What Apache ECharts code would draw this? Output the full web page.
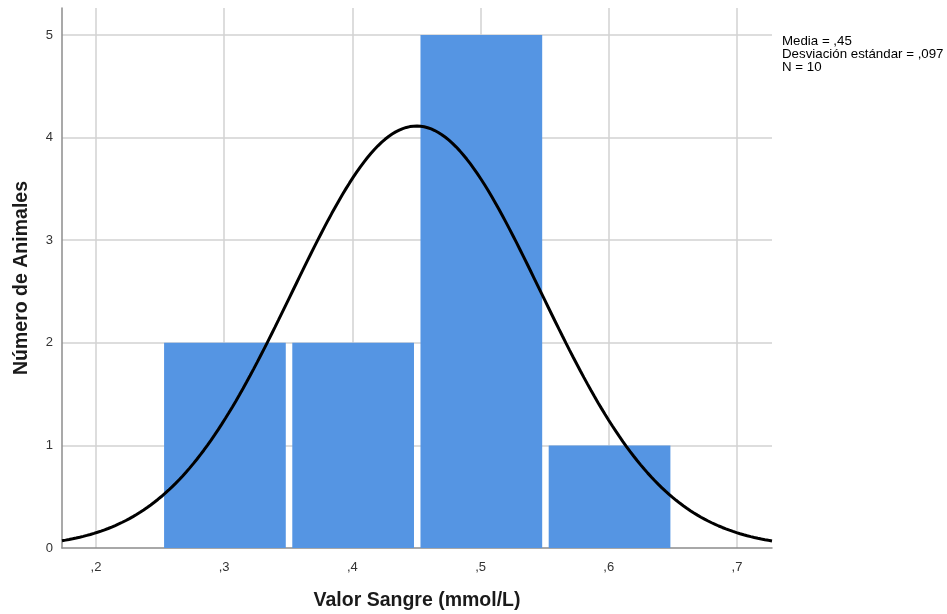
<!DOCTYPE html>
<html>
<head>
<meta charset="utf-8">
<script src="https://cdn.jsdelivr.net/npm/echarts@6/dist/echarts.min.js"></script>
<style>
  html, body { margin: 0; padding: 0; background: #fff; }
  #chart { width: 947px; height: 614px; }
</style>
</head>
<body>
<div id="chart"></div>
<script>
// Histogram bins: lower edge, upper edge (mmol/L)
const binStarts = [0.25, 0.35, 0.45, 0.55];
const binEnds   = [0.35, 0.45, 0.55, 0.65];
const binCounts = [2, 2, 5, 1];

// Summary statistics shown beside the plot
const meanValue = 0.45;
const stdDev = 0.097;
const sampleSize = 10;
const statLines = ['Media = ,45', 'Desviación estándar = ,097', 'N = 10'];

// Axis ranges
const xMin = 0.1735, xMax = 0.7273;
const yMin = 0, yMax = 5.263;

const FONT = '"Liberation Sans", Arial, sans-serif';

// Fitted normal curve scaled to the histogram (count per bin)
const binWidth = binEnds[0] - binStarts[0];
const curvePts = [];
const steps = 200;
for (let i = 0; i <= steps; i++) {
  const x = xMin + (xMax - xMin) * i / steps;
  const z = (x - meanValue) / stdDev;
  const y = sampleSize * binWidth / (stdDev * Math.sqrt(2 * Math.PI)) * Math.exp(-0.5 * z * z);
  curvePts.push([x, y]);
}

const barData = binStarts.map((s, i) => [s, binEnds[i], binCounts[i]]);

function commaDecimal(v) {
  const r = Math.round(v * 10) / 10;
  if (Math.abs(v - r) > 1e-6) return '';
  return String(r).replace(/^0\./, ',');
}

const chart = echarts.init(document.getElementById('chart'), null, { renderer: 'canvas' });
chart.setOption({
  animation: false,
  backgroundColor: '#ffffff',
  textStyle: { fontFamily: FONT },
  title: {
    text: statLines.join('\n'),
    left: 782,
    top: 35,
    padding: 0,
    textStyle: { fontFamily: FONT, fontSize: 13.3, fontWeight: 'normal', color: '#000', lineHeight: 12.8 }
  },
  grid: { left: 62, right: 175, top: 8, bottom: 66, containLabel: false, outerBoundsMode: 'none' },
  xAxis: {
    type: 'value',
    min: xMin,
    max: xMax,
    splitNumber: 5,
    name: 'Valor Sangre (mmol/L)',
    nameLocation: 'middle',
    nameGap: 43,
    nameTextStyle: { fontFamily: FONT, fontSize: 19.5, fontWeight: 'bold', color: '#1a1a1a' },
    axisLine: { show: true, onZero: false, lineStyle: { color: '#8c8c8c', width: 1.5 } },
    axisTick: { show: false },
    axisLabel: { formatter: commaDecimal, color: '#333', fontSize: 13, margin: 13, showMinLabel: false, showMaxLabel: false },
    splitLine: { show: true, showMinLine: false, showMaxLine: false, lineStyle: { color: '#d2d2d2', width: 1.5 } }
  },
  yAxis: {
    type: 'value',
    min: yMin,
    max: yMax,
    interval: 1,
    name: 'Número de Animales',
    nameLocation: 'middle',
    nameGap: 30,
    nameTextStyle: { fontFamily: FONT, fontSize: 19.5, fontWeight: 'bold', color: '#1a1a1a' },
    axisLine: { show: true, lineStyle: { color: '#8c8c8c', width: 1.5 } },
    axisTick: { show: false },
    axisLabel: {
      formatter: v => (Math.abs(v - Math.round(v)) < 1e-6 ? String(Math.round(v)) : ''),
      color: '#333', fontSize: 13, margin: 9, showMaxLabel: false
    },
    splitLine: { show: true, showMinLine: false, showMaxLine: false, lineStyle: { color: '#d2d2d2', width: 1.5 } }
  },
  series: [
    {
      type: 'custom',
      data: barData,
      encode: { x: [0, 1], y: 2 },
      renderItem: function (params, api) {
        const p0 = api.coord([api.value(0), api.value(2)]);
        const p1 = api.coord([api.value(1), 0]);
        const x0 = p0[0] + 4;
        const x1 = p1[0] - 2.5;
        return {
          type: 'rect',
          shape: { x: x0, y: p0[1], width: x1 - x0, height: p1[1] - p0[1] },
          style: { fill: '#5595e3' }
        };
      },
      z: 2
    },
    {
      type: 'line',
      data: curvePts,
      showSymbol: false,
      smooth: false,
      lineStyle: { color: '#000', width: 3 },
      z: 3
    }
  ]
});
</script>
</body>
</html>
